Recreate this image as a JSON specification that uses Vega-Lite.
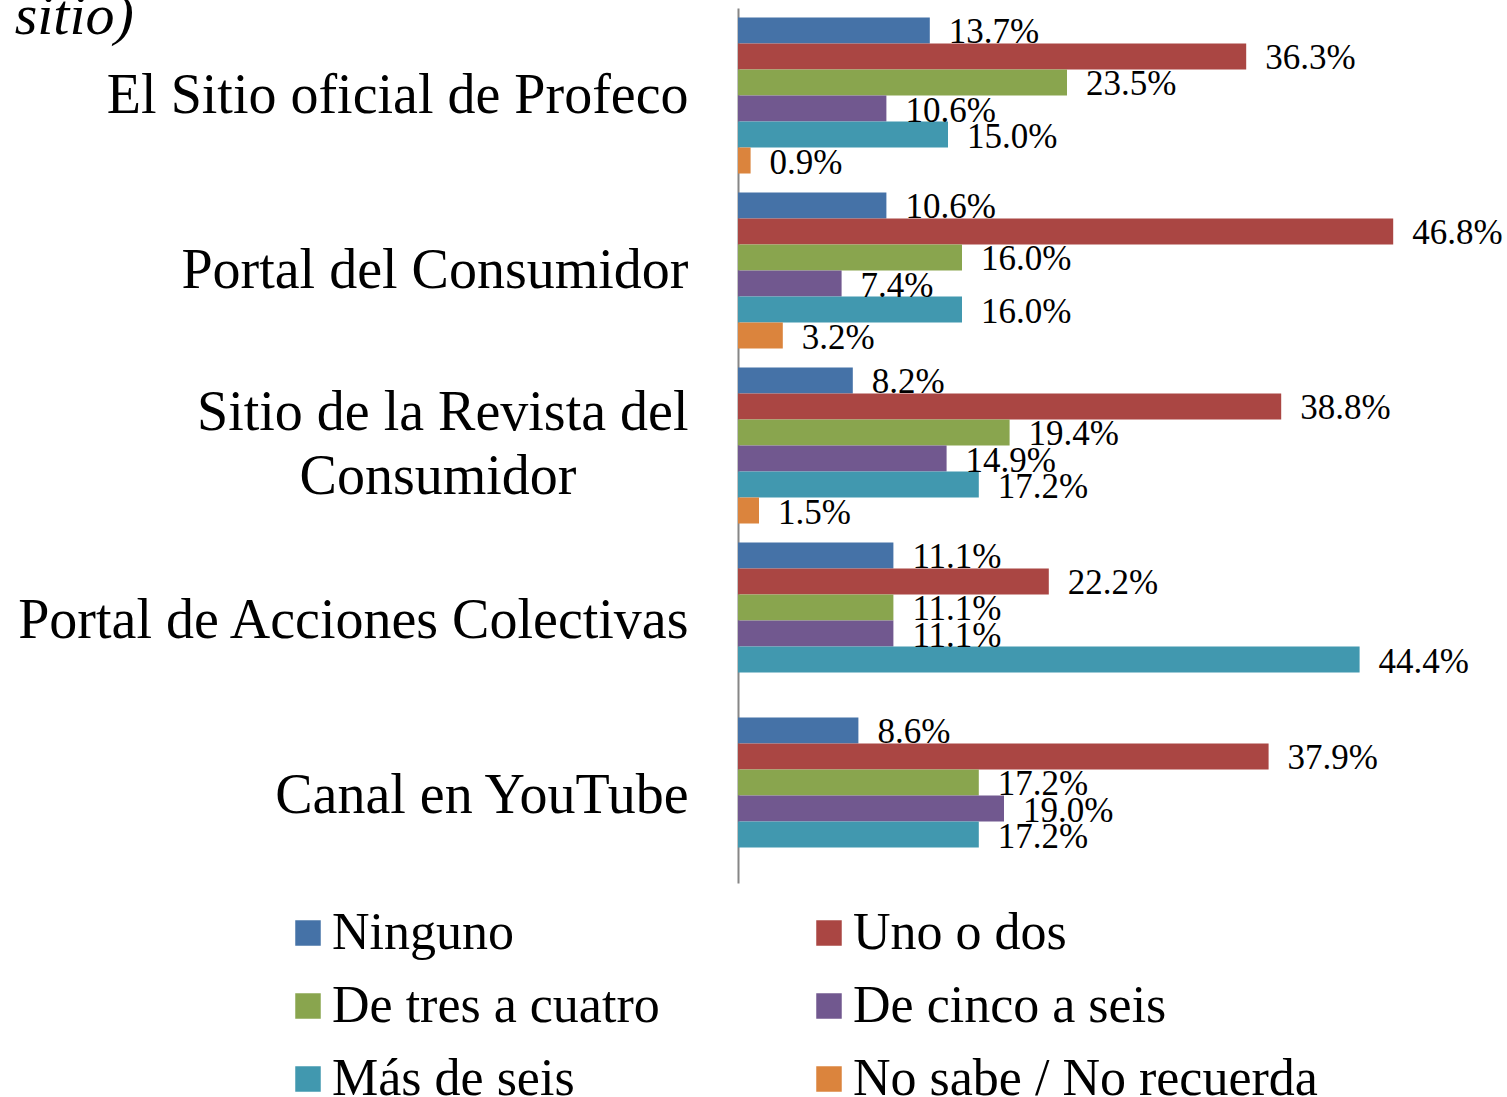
{
  "$schema": "https://vega.github.io/schema/vega-lite/v6.json",
  "autosize": {"type": "none"},
  "width": 700,
  "height": 875,
  "padding": {"left": 738, "top": 8, "right": 69, "bottom": 214},
  "background": "white",
  "title": {
    "text": "sitio)",
    "anchor": "start",
    "frame": "bounds",
    "font": "Liberation Serif",
    "fontStyle": "italic",
    "fontWeight": "normal",
    "fontSize": 58,
    "color": "black",
    "offset": 0,
    "dy": 38
  },
  "data": {
    "values": [
      {"sitio": "El Sitio oficial de Profeco", "serie": "Ninguno", "pct": 13.7},
      {"sitio": "El Sitio oficial de Profeco", "serie": "Uno o dos", "pct": 36.3},
      {"sitio": "El Sitio oficial de Profeco", "serie": "De tres a cuatro", "pct": 23.5},
      {"sitio": "El Sitio oficial de Profeco", "serie": "De cinco a seis", "pct": 10.6},
      {"sitio": "El Sitio oficial de Profeco", "serie": "Más de seis", "pct": 15.0},
      {"sitio": "El Sitio oficial de Profeco", "serie": "No sabe / No recuerda", "pct": 0.9},
      {"sitio": "Portal del Consumidor", "serie": "Ninguno", "pct": 10.6},
      {"sitio": "Portal del Consumidor", "serie": "Uno o dos", "pct": 46.8},
      {"sitio": "Portal del Consumidor", "serie": "De tres a cuatro", "pct": 16.0},
      {"sitio": "Portal del Consumidor", "serie": "De cinco a seis", "pct": 7.4},
      {"sitio": "Portal del Consumidor", "serie": "Más de seis", "pct": 16.0},
      {"sitio": "Portal del Consumidor", "serie": "No sabe / No recuerda", "pct": 3.2},
      {"sitio": "Sitio de la Revista del Consumidor", "serie": "Ninguno", "pct": 8.2},
      {"sitio": "Sitio de la Revista del Consumidor", "serie": "Uno o dos", "pct": 38.8},
      {"sitio": "Sitio de la Revista del Consumidor", "serie": "De tres a cuatro", "pct": 19.4},
      {"sitio": "Sitio de la Revista del Consumidor", "serie": "De cinco a seis", "pct": 14.9},
      {"sitio": "Sitio de la Revista del Consumidor", "serie": "Más de seis", "pct": 17.2},
      {"sitio": "Sitio de la Revista del Consumidor", "serie": "No sabe / No recuerda", "pct": 1.5},
      {"sitio": "Portal de Acciones Colectivas", "serie": "Ninguno", "pct": 11.1},
      {"sitio": "Portal de Acciones Colectivas", "serie": "Uno o dos", "pct": 22.2},
      {"sitio": "Portal de Acciones Colectivas", "serie": "De tres a cuatro", "pct": 11.1},
      {"sitio": "Portal de Acciones Colectivas", "serie": "De cinco a seis", "pct": 11.1},
      {"sitio": "Portal de Acciones Colectivas", "serie": "Más de seis", "pct": 44.4},
      {"sitio": "Canal en YouTube", "serie": "Ninguno", "pct": 8.6},
      {"sitio": "Canal en YouTube", "serie": "Uno o dos", "pct": 37.9},
      {"sitio": "Canal en YouTube", "serie": "De tres a cuatro", "pct": 17.2},
      {"sitio": "Canal en YouTube", "serie": "De cinco a seis", "pct": 19.0},
      {"sitio": "Canal en YouTube", "serie": "Más de seis", "pct": 17.2}
    ]
  },
  "transform": [
    {"calculate": "format(datum.pct, '.1f') + '%'", "as": "etiqueta"}
  ],
  "encoding": {
    "y": {
      "field": "sitio",
      "type": "nominal",
      "sort": ["El Sitio oficial de Profeco", "Portal del Consumidor", "Sitio de la Revista del Consumidor", "Portal de Acciones Colectivas", "Canal en YouTube"],
      "scale": {"paddingInner": 0, "paddingOuter": 0},
      "axis": {
        "title": null,
        "domainColor": "#868686",
        "domainWidth": 2,
        "ticks": false,
        "grid": false,
        "labelFont": "Liberation Serif",
        "labelFontSize": 56,
        "labelColor": "black",
        "labelPadding": 50,
        "labelLimit": 0,
        "labelLineHeight": 64,
        "labelOffset": {"condition": {"test": "datum.value == 'Sitio de la Revista del Consumidor'", "value": -33}, "value": 0},
        "labelExpr": "datum.value == 'Sitio de la Revista del Consumidor' ? ['Sitio de la Revista del', 'Consumidor\u00a0\u00a0\u00a0\u00a0\u00a0\u00a0\u00a0\u00a0\u200b'] : datum.value"
      }
    },
    "yOffset": {
      "field": "serie",
      "type": "nominal",
      "scale": {
        "domain": ["Ninguno", "Uno o dos", "De tres a cuatro", "De cinco a seis", "Más de seis", "No sabe / No recuerda"],
        "paddingInner": 0,
        "paddingOuter": 0.365
      }
    },
    "x": {
      "field": "pct",
      "type": "quantitative",
      "scale": {"domain": [0, 50], "nice": false},
      "axis": null
    }
  },
  "layer": [
    {
      "mark": {"type": "bar", "cornerRadius": 0},
      "encoding": {
        "color": {
          "field": "serie",
          "type": "nominal",
          "scale": {
            "domain": ["Ninguno", "Uno o dos", "De tres a cuatro", "De cinco a seis", "Más de seis", "No sabe / No recuerda"],
            "range": ["#4572A7", "#AA4643", "#89A54E", "#71588F", "#4198AF", "#DB843D"]
          },
          "legend": {
            "title": null,
            "orient": "none",
            "legendX": -456,
            "legendY": 899,
            "direction": "horizontal",
            "columns": 2,
            "columnPadding": 143,
            "rowPadding": 21,
            "symbolType": "square",
            "symbolSize": 650,
            "symbolStrokeWidth": 0,
            "symbolOpacity": 1,
            "labelFont": "Liberation Serif",
            "labelFontSize": 52,
            "labelColor": "black",
            "labelOffset": -2,
            "labelLimit": 0
          }
        }
      }
    },
    {
      "mark": {
        "type": "text",
        "align": "left",
        "baseline": "alphabetic",
        "dx": 19,
        "dy": 13,
        "font": "Liberation Serif",
        "fontSize": 35,
        "color": "black"
      },
      "encoding": {
        "text": {"field": "etiqueta", "type": "nominal"}
      }
    }
  ],
  "config": {
    "view": {"stroke": null},
    "axis": {"grid": false}
  }
}
